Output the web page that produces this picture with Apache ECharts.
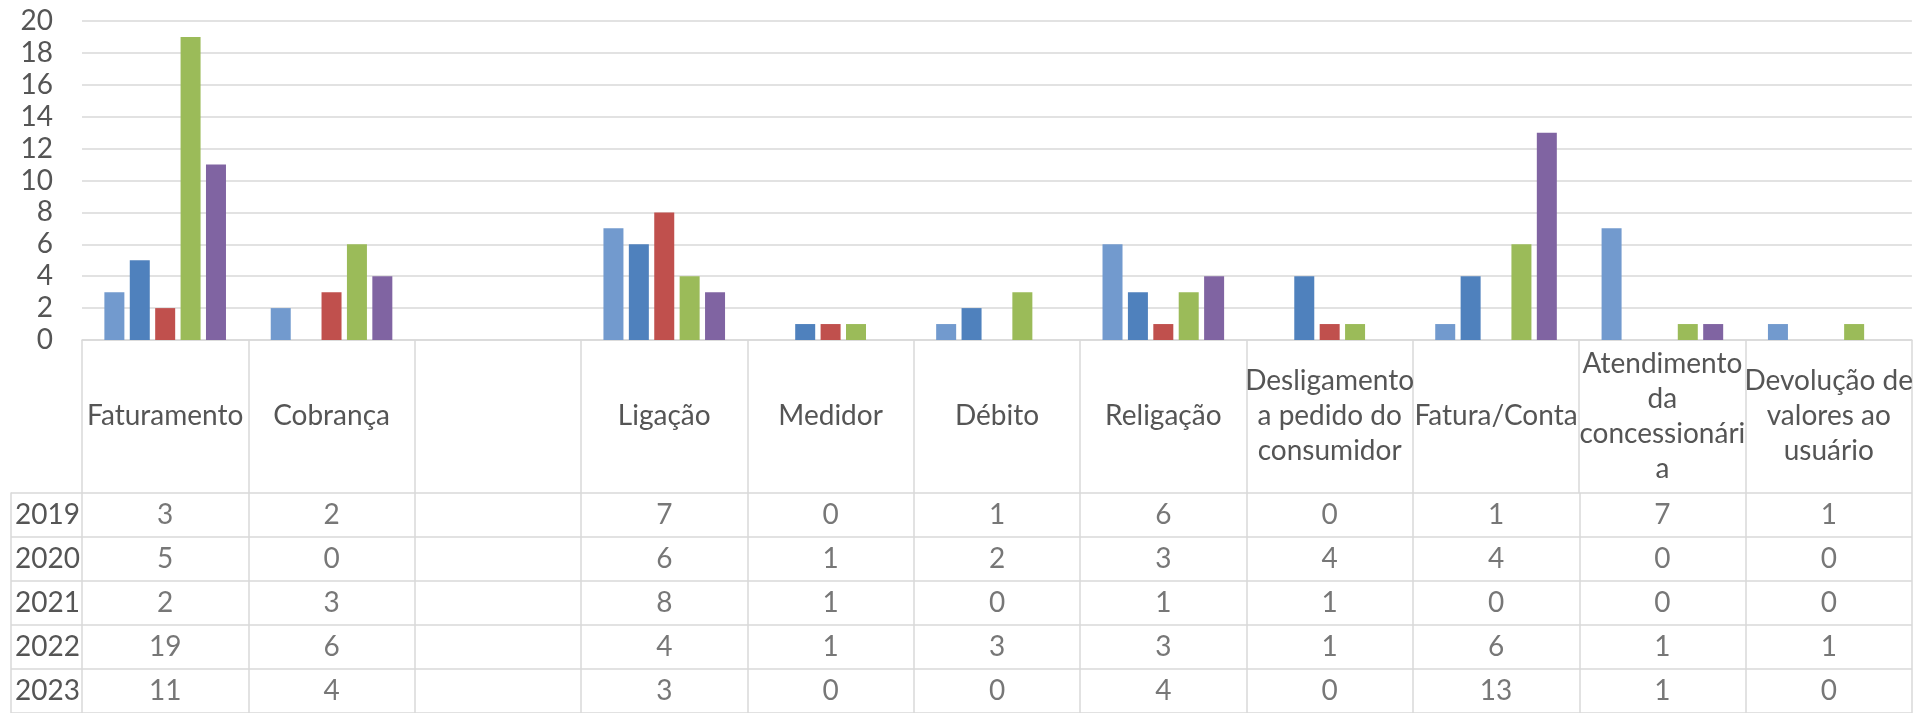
<!DOCTYPE html>
<html>
<head>
<meta charset="utf-8">
<script src="https://cdn.jsdelivr.net/npm/echarts@6/dist/echarts.min.js"></script>
<style>
  html, body { margin: 0; padding: 0; background: #fff; }
  #chart { width: 1916px; height: 713px; }
</style>
</head>
<body>
<div id="chart"></div>
<script>
// categorias (a terceira coluna está vazia no original)
const categories = [
  "Faturamento", "Cobrança", "", "Ligação", "Medidor", "Débito", "Religação",
  "Desligamento\na pedido do\nconsumidor", "Fatura/Conta",
  "Atendimento\nda\nconcessionári\na", "Devolução de\nvalores ao\nusuário"
];
const years = ["2019", "2020", "2021", "2022", "2023"];

const v2019 = [3, 2, null, 7, 0, 1, 6, 0, 1, 7, 1];
const v2020 = [5, 0, null, 6, 1, 2, 3, 4, 4, 0, 0];
const v2021 = [2, 3, null, 8, 1, 0, 1, 1, 0, 0, 0];
const v2022 = [19, 6, null, 4, 1, 3, 3, 1, 6, 1, 1];
const v2023 = [11, 4, null, 3, 0, 0, 4, 0, 13, 1, 0];

const colors = ["#729ACE", "#4F81BD", "#C0504D", "#9BBB59", "#8064A2"];
const gridColor = "#D9D9D9";
const textColor = "#555555";
const font = "Lato";
const fontSize = 28;

const rows = [v2019, v2020, v2021, v2022, v2023];

// celulas da tabela de dados
const tableCells = [];
rows.forEach((r, j) => {
  r.forEach((v, i) => {
    if (v !== null) tableCells.push([i, j, v]);
  });
});

const chart = echarts.init(document.getElementById("chart"));

const option = {
  animation: false,
  grid: [
    { left: 82, right: 4, top: 21, height: 319 },
    { left: 82, right: 4, top: 493, height: 223 },
  ],
  xAxis: [
    {
      type: "category",
      gridIndex: 0,
      data: categories,
      axisLine: { lineStyle: { color: gridColor, width: 1.5 } },
      axisTick: {
        show: true,
        length: 153,
        interval: 0,
        lineStyle: { color: gridColor, width: 1.5 },
      },
      axisLabel: {
        interval: 0,
        margin: 76,
        verticalAlign: "middle",
        color: textColor,
        fontFamily: font,
        fontSize: fontSize,
        lineHeight: 35,
        align: "center",
      },
    },
    {
      type: "category",
      gridIndex: 1,
      data: categories,
      axisLine: { show: false },
      axisTick: { show: false },
      axisLabel: { show: false },
      splitLine: {
        show: true,
        interval: 0,
        lineStyle: { color: gridColor, width: 1.5 },
      },
    },
  ],
  yAxis: [
    {
      type: "value",
      gridIndex: 0,
      min: 0,
      max: 20,
      interval: 2,
      axisLine: { show: false },
      axisTick: { show: false },
      axisLabel: {
        margin: 29,
        color: textColor,
        fontFamily: font,
        fontSize: fontSize,
      },
      splitLine: { lineStyle: { color: gridColor, width: 1.5 } },
    },
    {
      type: "category",
      gridIndex: 1,
      data: years,
      inverse: true,
      axisLine: { show: false },
      axisTick: {
        show: true,
        length: 71,
        interval: 0,
        lineStyle: { color: gridColor, width: 1.5 },
      },
      axisLabel: {
        align: "left",
        margin: 67,
        color: textColor,
        fontFamily: font,
        fontSize: fontSize,
      },
      splitLine: {
        show: true,
        interval: 0,
        lineStyle: { color: gridColor, width: 1.5 },
      },
    },
    {
      type: "category",
      gridIndex: 1,
      data: years,
      inverse: true,
      position: "left",
      offset: 71,
      axisLine: { show: true, lineStyle: { color: gridColor, width: 1.5 } },
      axisTick: { show: false },
      axisLabel: { show: false },
      splitLine: { show: false },
    },
  ],
  series: [
    ...years.map((y, k) => ({
      name: y,
      type: "bar",
      xAxisIndex: 0,
      yAxisIndex: 0,
      data: rows[k],
      barWidth: 20,
      barGap: "27%",
      itemStyle: { color: colors[k] },
    })),
    {
      type: "scatter",
      xAxisIndex: 1,
      yAxisIndex: 1,
      data: tableCells,
      symbolSize: 0,
      silent: true,
      label: {
        show: true,
        position: "inside",
        formatter: (p) => String(p.value[2]),
        color: textColor,
        fontFamily: font,
        fontSize: fontSize,
      },
    },
  ],
};

option && chart.setOption(option);
</script>
</body>
</html>
